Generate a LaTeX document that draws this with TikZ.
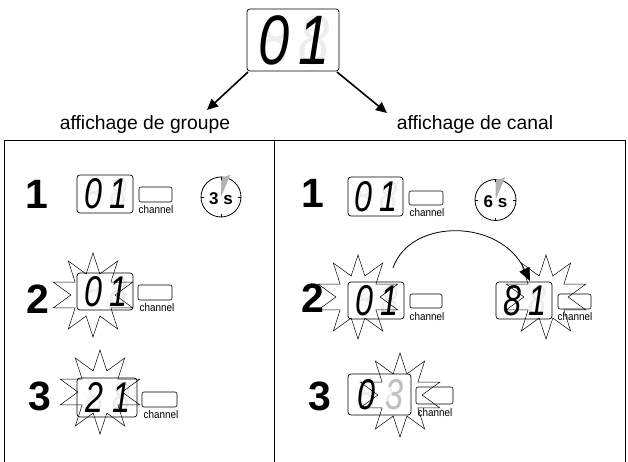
\documentclass[tikz,border=0pt]{standalone}
\usepackage{fontspec}
\setmainfont{Liberation Sans}
\usetikzlibrary{shapes.geometric,arrows.meta}
\begin{document}
\begin{tikzpicture}[x=1pt,y=-1pt,
  disp/.style={draw,rounded corners=3pt,line width=0.7pt},
  btn/.style={draw,rounded corners=2pt,line width=0.6pt},
  chan/.style={font=\fontsize{11}{11}\selectfont,inner sep=0pt,xscale=0.9},
  stepn/.style={font=\fontsize{41}{41}\selectfont\bfseries,inner sep=0pt},
  dig/.style={font=\fontsize{43}{43}\selectfont\itshape,inner sep=0pt,xscale=0.75},
  bigdig/.style={font=\fontsize{70}{70}\selectfont\itshape,inner sep=0pt,xscale=0.8},
  ghost/.style={text=black!7},
  burst/.style={star,star points=10,star point ratio=1.9,draw,line width=0.5pt,minimum size=84pt,inner sep=0pt},
  lab/.style={font=\fontsize{19.3}{19.3}\selectfont,inner sep=0pt},
  tim/.style={font=\fontsize{17}{17}\selectfont\bfseries,inner sep=0pt},
  arr/.style={-{Triangle[length=11pt,width=10pt]},line width=1.6pt}]
\useasboundingbox (0,0) rectangle (628,462);
% top display
\node[disp,minimum width=92pt,minimum height=62pt] (top) at (293,40) {};
\node[bigdig,ghost] (tg1) at (274,40) {8};
\node[bigdig] (td1) at (274,40) {0};
\node[bigdig,ghost] (tg2) at (314,40) {8};
\node[bigdig] (td2) at (314,40) {1};
\node[lab] (lg) at (145,125) {affichage de groupe};
\node[lab] (lc) at (475,125) {affichage de canal};
\draw[arr] (248,72) coordinate (a1) -- (207,110) coordinate (a1e);
\draw[arr] (337,72) coordinate (a2) -- (387,113) coordinate (a2e);
% frame
\draw[line width=0.7pt] (4,462) coordinate (f1) -- (4,140) coordinate (f2) -- (625,140) coordinate (f3) -- (625,462) coordinate (f4);
\draw[line width=0.7pt] (274,140) coordinate (d1) -- (274,462) coordinate (d2);
% ---- left panel
\node[stepn] (l1) at (37,194) {1};
\node[disp,minimum width=56pt,minimum height=38pt] (lb1) at (105,194) {};
\node[dig,ghost] at (93,194) {8}; \node[dig] (l1a) at (93,194) {0};
\node[dig,ghost] at (118,194) {8}; \node[dig] (l1b) at (118,194) {1};
\node[btn,minimum width=33pt,minimum height=15pt] (lbt1) at (155.5,194.5) {};
\node[chan] (lc1) at (156,210) {channel};
\node[draw,circle,line width=0.8pt,minimum size=40pt,inner sep=0pt] (t1) at (221,197) {};
\fill[black!30] (221,197) -- (221,177) arc (90:62:20) -- cycle;
\foreach \a in {0,90,180,270}{\draw[line width=0.8pt] (221,197) ++(\a:20) -- ++(\a+180:3);}
\node[tim] (t1l) at (221,199) {3 s};
% row 2
\node[stepn] (l2) at (38,299) {2};
\node[disp,minimum width=56pt,minimum height=37pt] (lb2) at (105,291.5) {};
\node[dig,ghost] at (93,291.5) {8}; \node[dig] at (93,291.5) {0};
\node[dig,ghost] at (118,291.5) {8}; \node[dig] at (118,291.5) {1};
\node[btn,minimum width=34pt,minimum height=15pt] (lbt2) at (155,292.5) {};
\node[chan] (lc2) at (157,308) {channel};
\node[burst] (s2) at (93,295) {};
% row 3
\node[stepn] (l3) at (40,396) {3};
\node[disp,minimum width=60pt,minimum height=39pt] (lb3) at (107,397.5) {};
\node[dig,ghost] at (94,397.5) {8}; \node[dig] at (94,397.5) {2};
\node[dig,ghost] at (121,397.5) {8}; \node[dig] at (121,397.5) {1};
\node[btn,minimum width=35pt,minimum height=15pt] (lbt3) at (159.5,399.5) {};
\node[chan] (lc3) at (161,415) {channel};
\node[burst] (s3) at (100,392) {};
% ---- right panel
\node[stepn] (r1) at (313,193) {1};
\node[disp,minimum width=55pt,minimum height=39pt] (rb1) at (375.5,196.5) {};
\node[dig,ghost] at (363,196.5) {8}; \node[dig] at (363,196.5) {0};
\node[dig,ghost] at (388,196.5) {8}; \node[dig] at (388,196.5) {1};
\node[btn,minimum width=34pt,minimum height=14pt] (rbt1) at (426,198) {};
\node[chan] (rc1) at (427,213) {channel};
\node[draw,circle,line width=0.8pt,minimum size=41pt,inner sep=0pt] (t2) at (495.5,200) {};
\fill[black!30] (495.5,200) -- (495.5,179.5) arc (90:62:20.5) -- cycle;
\foreach \a in {0,90,180,270}{\draw[line width=0.8pt] (495.5,200) ++(\a:20.5) -- ++(\a+180:3);}
\node[tim] (t2l) at (495.5,202) {6 s};
% row 2 right
\node[stepn] (r2) at (313,298) {2};
\node[disp,minimum width=56pt,minimum height=37pt] (rb2) at (376,300.5) {};
\node[dig,ghost] at (364,300.5) {8}; \node[dig] at (364,300.5) {0};
\node[dig,ghost] at (389,300.5) {8}; \node[dig] at (389,300.5) {1};
\node[btn,minimum width=32pt,minimum height=14pt] (rbt2) at (426,301) {};
\node[chan] (rc2) at (427,317) {channel};
\node[burst] (s4) at (358,297) {};
\node[disp,minimum width=56pt,minimum height=37pt] (rb3) at (524,300.5) {};
\node[dig,ghost] at (512,300.5) {8}; \node[dig] at (512,300.5) {8};
\node[dig,ghost] at (537,300.5) {8}; \node[dig] at (537,300.5) {1};
\node[btn,minimum width=33pt,minimum height=15pt] (rbt3) at (574.5,301.5) {};
\node[chan] (rc3) at (575,317) {channel};
\node[burst] (s5) at (546,297) {};
\coordinate (c0) at (393,268);
\coordinate (c1) at (530,281);
\draw[-{Triangle[length=13pt,width=11pt]},line width=0.8pt] (c0) .. controls (410,218) and (500,218) .. (c1);
% row 3 right
\node[stepn] (r3) at (320,396) {3};
\node[disp,minimum width=63pt,minimum height=41pt] (rb4) at (379.5,394.5) {};
\node[dig,ghost] at (366,394.5) {8}; \node[dig] at (366,394.5) {0};
\node[dig,ghost] at (394,394.5) {8}; \node[dig,text=black!25] at (394,394.5) {3};
\node[btn,minimum width=37pt,minimum height=17pt] (rbt4) at (434.5,395.5) {};
\node[chan] (rc4) at (435,413) {channel};
\node[burst] (s6) at (400,395) {};
\end{tikzpicture}
\end{document}
